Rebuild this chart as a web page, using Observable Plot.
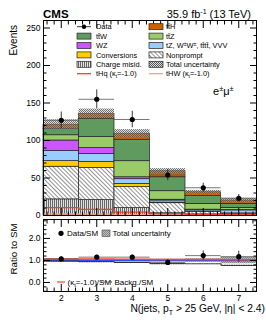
<!DOCTYPE html>
<html><head><meta charset="utf-8">
<script src="https://cdn.jsdelivr.net/npm/d3@7"></script>
<script src="https://cdn.jsdelivr.net/npm/@observablehq/plot@0.6"></script>
<style>
body{margin:0;background:#fff}
#wrap{position:relative;width:266px;height:322px;overflow:hidden;font-family:"Liberation Sans",Arial,sans-serif}
#wrap svg{position:absolute;left:0}
</style></head><body><div id="wrap"></div>
<script>
// ---- data ----
const bins = [2, 3, 4, 5, 6, 7];
const chargeMisid = [21.5, 20.5, 9.8, 3.0, 1.5, 0.8];
const nonprompt   = [43.5, 43.0, 28.0, 13.4, 3.5, 1.7];
const conversions = [7.5, 8.0, 4.4, 0.8, 0.5, 0.3];
const tZetc       = [13.5, 10.5, 6.2, 2.8, 1.8, 4.0];
const wz          = [14.0, 8.0, 2.6, 1.0, 0.5, 0.4];
const ttZ         = [7.0, 14.5, 21.4, 11.4, 7.7, 3.0];
const ttW         = [8.5, 24.5, 28.6, 18.6, 10.3, 5.3];
const ttH         = [5.5, 6.5, 8.0, 8.0, 5.2, 4.5];
const totalUnc    = [6.5, 6.5, 5.5, 3.5, 2.5, 3.0];
const dataVals    = [127, 155, 128, 54, 37, 23];
const dataErr     = [11, 12.5, 11, 7.5, 6, 5];
const tHq         = [10.5, 8.3, 4.4, 2.5, 1.5, 1.0];
const tHW         = [2.0, 1.8, 1.4, 0.8, 0.5, 0.3];
// ratio panel
const ratioData   = [1.07, 1.15, 1.15, 0.91, 1.22, 1.17];
const ratioErr    = [0.09, 0.09, 0.10, 0.13, 0.21, 0.25];
const ratioUnc    = [0.055, 0.05, 0.05, 0.06, 0.08, 0.15];
const ratioKtm1   = [1.07, 1.065, 1.055, 1.045, 1.04, 1.035];
const ratioBkg    = [0.97, 0.95, 0.91, 0.86, 0.85, 0.78];
const yTicksTop   = [0, 50, 100, 150, 200, 250];
const yTicksRatio = [0, 1, 2];
const xTickLabels = ["2", "3", "4", "5", "6", "7"];
const legendLeft  = ["Data", "tt\u0304W", "WZ", "Conversions", "Charge misid.", 'tHq (κ<tspan dy="1.5" font-size="5">t</tspan><tspan dy="-1.5">=-1.0)</tspan>'];
const legendRight = ["tt\u0304H", "tt\u0304Z", 'tZ, W<tspan dy="-2.5" font-size="5">±</tspan><tspan dy="2.5">W</tspan><tspan dy="-2.5" font-size="5">±</tspan><tspan dy="2.5">, tt\u0304tt\u0304, VVV</tspan>', "Nonprompt", "Total uncertainty", 'tHW (κ<tspan dy="1.5" font-size="5">t</tspan><tspan dy="-1.5">=-1.0)</tspan>'];

// ---- styles ----
const procs = [
  {v: chargeMisid, fill: "url(#pCM)"},
  {v: nonprompt,   fill: "url(#pNP)"},
  {v: conversions, fill: "#ffcc00"},
  {v: tZetc,       fill: "#99ccff"},
  {v: wz,          fill: "#cc55ff"},
  {v: ttZ,         fill: "#99cc66"},
  {v: ttW,         fill: "#5f9a5f"},
  {v: ttH,         fill: "#cc6200"}
];
const legLeftSw  = [{type:"data"}, {fill:"#5f9a5f"}, {fill:"#cc55ff"}, {fill:"#ffcc00"}, {fill:"url(#pCM)"}, {type:"line", stroke:"#ff3b1f"}];
const legRightSw = [{fill:"#cc6200"}, {fill:"#99cc66"}, {fill:"#99ccff"}, {fill:"url(#pNP)"}, {fill:"url(#pUnc)"}, {type:"line", stroke:"#ff9f80"}];

const defs = `
<pattern id="pNP" width="3" height="3" patternUnits="userSpaceOnUse" patternTransform="rotate(-45)"><rect width="3" height="3" fill="#fff"/><line x1="0.5" y1="0" x2="0.5" y2="3" stroke="#7a7a7a" stroke-width="0.8"/></pattern>
<pattern id="pCM" width="2" height="2" patternUnits="userSpaceOnUse"><rect width="2" height="2" fill="#e2e2e2"/><line x1="0.5" y1="0" x2="0.5" y2="2" stroke="#666" stroke-width="1"/></pattern>
<pattern id="pUnc" width="2" height="2" patternUnits="userSpaceOnUse"><rect x="0" y="0" width="1" height="1" fill="#555"/><rect x="1" y="1" width="1" height="1" fill="#555"/><rect x="1" y="0" width="1" height="1" fill="#bbb" fill-opacity="0.5"/><rect x="0" y="1" width="1" height="1" fill="#bbb" fill-opacity="0.5"/></pattern>
<pattern id="pUncR" width="2" height="2" patternUnits="userSpaceOnUse"><rect width="2" height="2" fill="#bbb"/><rect x="0" y="0" width="1" height="1" fill="#888"/><rect x="1" y="1" width="1" height="1" fill="#888"/></pattern>`;

// ---- derived tables ----
const stackRows = [];
const cum = bins.map(() => 0);
procs.forEach((p, k) => {
  bins.forEach((b, i) => {
    stackRows.push({k, bin: b, y1: cum[i], y2: cum[i] + p.v[i], fill: p.fill});
    cum[i] += p.v[i];
  });
});
const totals = cum.slice();
const steps = arr => bins.flatMap((b, i) => [{x: b - 0.5, y: arr[i]}, {x: b + 0.5, y: arr[i]}]);
const rows = bins.map((b, i) => ({b, d: dataVals[i], e: dataErr[i], t: totals[i], u: totalUnc[i],
  r: ratioData[i], re: ratioErr[i], ru: ratioUnc[i]}));

const range = (a, b, s) => d3.range(Math.round(a / s), Math.round(b / s) + 1).map(v => +(v * s).toFixed(4));
const minorTop = range(0, 260, 10).filter(v => v % 50 !== 0);
const minorRatio = range(-0.4, 2.8, 0.2).filter(v => Math.abs(v - Math.round(v)) > 1e-6);
const minorX = range(1.6, 7.4, 0.2).filter(v => Math.abs(v - Math.round(v)) > 1e-6);

function tickAxes(yMajor, yMinor) {
  const o = {tickFormat: () => "", label: null, stroke: "#000"};
  return [
    Plot.axisY({...o, anchor: "left", ticks: yMajor, tickSize: -7}),
    Plot.axisY({...o, anchor: "left", ticks: yMinor, tickSize: -3.5}),
    Plot.axisY({...o, anchor: "right", ticks: yMajor, tickSize: -7}),
    Plot.axisY({...o, anchor: "right", ticks: yMinor, tickSize: -3.5}),
    Plot.axisX({...o, anchor: "bottom", ticks: bins, tickSize: -7}),
    Plot.axisX({...o, anchor: "bottom", ticks: minorX, tickSize: -3.5}),
    Plot.axisX({...o, anchor: "top", ticks: bins, tickSize: -7}),
    Plot.axisX({...o, anchor: "top", ticks: minorX, tickSize: -3.5})
  ];
}
const style = {background: "transparent", fontFamily: "Liberation Sans, Arial, sans-serif", fontSize: "8.5px", color: "#000"};

// ---- top panel ----
const topPlot = Plot.plot({
  width: 266, height: 220, marginLeft: 43, marginRight: 10, marginTop: 20, marginBottom: 5,
  style,
  x: {domain: [1.5, 7.5]},
  y: {domain: [0, 260], label: null},
  marks: [
    ...procs.map((p, k) => Plot.rect(stackRows.filter(r => r.k === k), {
      x1: r => r.bin - 0.5, x2: r => r.bin + 0.5, y1: "y1", y2: "y2",
      fill: p.fill, stroke: "#222", strokeWidth: 0.7
    })),
    Plot.rect(rows, {x1: d => d.b - 0.5, x2: d => d.b + 0.5, y1: d => d.t - d.u, y2: d => d.t + d.u, fill: "url(#pUnc)", fillOpacity: 0.85}),
    Plot.line(steps(tHW), {x: "x", y: "y", stroke: "#ff9f80", strokeWidth: 1.3}),
    Plot.line(steps(tHq), {x: "x", y: "y", stroke: "#ff3b1f", strokeWidth: 1.3}),
    Plot.ruleY(rows, {x1: d => d.b - 0.5, x2: d => d.b + 0.5, y: "d", stroke: "#555", strokeWidth: 0.8}),
    Plot.ruleX(rows, {x: "b", y1: d => d.d - d.e, y2: d => d.d + d.e, stroke: "#222", strokeWidth: 0.9}),
    Plot.dot(rows, {x: "b", y: "d", r: 2.6, fill: "#000", stroke: "none"}),
    Plot.axisY({anchor: "left", ticks: yTicksTop, tickSize: 0, tickPadding: 3, label: null}),
    ...tickAxes(yTicksTop, minorTop),
    Plot.frame({stroke: "#000", strokeWidth: 1})
  ]
});

// ---- ratio panel ----
const botPlot = Plot.plot({
  width: 266, height: 106, marginLeft: 43, marginRight: 10, marginTop: 3, marginBottom: 31,
  style,
  x: {domain: [1.5, 7.5]},
  y: {domain: [-0.41, 2.86], label: null},
  marks: [
    Plot.rect(rows, {x1: d => d.b - 0.5, x2: d => d.b + 0.5, y1: d => 1 - d.ru, y2: d => 1 + d.ru, fill: "url(#pUncR)"}),
    Plot.ruleY([1], {stroke: "#2b4cff", strokeWidth: 1.6}),
    Plot.line(steps(ratioKtm1), {x: "x", y: "y", stroke: "#ff4a26", strokeWidth: 1.5}),
    Plot.line(steps(ratioBkg), {x: "x", y: "y", stroke: "#333", strokeWidth: 1.2, strokeDasharray: "1.4,1"}),
    Plot.ruleY(rows, {x1: d => d.b - 0.5, x2: d => d.b + 0.5, y: "r", stroke: "#555", strokeWidth: 0.8}),
    Plot.ruleX(rows, {x: "b", y1: d => d.r - d.re, y2: d => d.r + d.re, stroke: "#222", strokeWidth: 0.9}),
    Plot.dot(rows, {x: "b", y: "r", r: 2.6, fill: "#000", stroke: "none"}),
    Plot.axisY({anchor: "left", ticks: yTicksRatio, tickSize: 0, tickPadding: 3, label: null}),
    Plot.axisX({anchor: "bottom", ticks: bins, tickSize: 0, tickPadding: 3, label: null,
      tickFormat: v => xTickLabels[bins.indexOf(v)]}),
    ...tickAxes(yTicksRatio, minorRatio),
    Plot.frame({stroke: "#000", strokeWidth: 1})
  ]
});

const wrap = document.getElementById("wrap");
topPlot.style.top = "0px";
botPlot.style.top = "216px";
wrap.appendChild(topPlot);
wrap.appendChild(botPlot);
d3.select(topPlot).insert("defs", ":first-child").html(defs);

// ---- annotation overlay ----
const ov = d3.select(wrap).append("svg").attr("width", 266).attr("height", 322)
  .style("top", "0px").style("pointer-events", "none")
  .attr("font-family", "Liberation Sans, Arial, sans-serif");
ov.append("defs").html(defs.replace(/id="p/g, 'id="o'));
const oFill = f => f.replace("url(#p", "url(#o");

ov.append("text").attr("x", 43).attr("y", 17.5).attr("font-size", 11.5).attr("font-weight", "bold").text("CMS");
ov.append("text").attr("x", 251).attr("y", 17.5).attr("font-size", 11).attr("text-anchor", "end")
  .html('35.9 fb<tspan dy="-4" font-size="7">-1</tspan><tspan dy="4"> (13 TeV)</tspan>');
ov.append("text").attr("x", 213).attr("y", 95).attr("font-size", 11)
  .html('e<tspan dy="-4" font-size="7.5">±</tspan><tspan dy="4">μ</tspan><tspan dy="-4" font-size="7.5">±</tspan>');
ov.append("text").attr("transform", "translate(17,25) rotate(-90)").attr("text-anchor", "end").attr("font-size", 10).text("Events");
ov.append("text").attr("transform", "translate(17,249) rotate(-90)").attr("text-anchor", "middle").attr("font-size", 9.8).text("Ratio to SM");
ov.append("text").attr("x", 265).attr("y", 311.5).attr("font-size", 10.3).attr("text-anchor", "end")
  .html('N(jets, p<tspan dy="3" font-size="7">T</tspan><tspan dy="-3"> &gt; 25 GeV, |η| &lt; 2.4)</tspan>');

function legendCol(sw, labels, x0, tx) {
  labels.forEach((lab, i) => {
    const y = 26.7 + 9.4 * i;
    const s = sw[i];
    if (s.type === "data") {
      ov.append("line").attr("x1", x0).attr("x2", x0 + 14).attr("y1", y).attr("y2", y).attr("stroke", "#000").attr("stroke-width", 0.8);
      ov.append("circle").attr("cx", x0 + 7).attr("cy", y).attr("r", 2.2);
    } else if (s.type === "line") {
      ov.append("line").attr("x1", x0).attr("x2", x0 + 14).attr("y1", y).attr("y2", y).attr("stroke", s.stroke).attr("stroke-width", 1.3);
    } else {
      ov.append("rect").attr("x", x0).attr("y", y - 3).attr("width", 14).attr("height", 6)
        .attr("fill", oFill(s.fill)).attr("stroke", "#222").attr("stroke-width", 0.7);
    }
    ov.append("text").attr("x", tx).attr("y", y + 2.6).attr("font-size", 7.4).html(lab);
  });
}
legendCol(legLeftSw, legendLeft, 77, 96);
legendCol(legRightSw, legendRight, 149, 166);

// ratio legends
ov.append("circle").attr("cx", 61).attr("cy", 233.3).attr("r", 2.6);
ov.append("text").attr("x", 67).attr("y", 236.2).attr("font-size", 8).text("Data/SM");
ov.append("rect").attr("x", 102).attr("y", 230).attr("width", 8).attr("height", 6.5).attr("fill", "url(#oUncR)").attr("stroke", "#444").attr("stroke-width", 0.6);
ov.append("text").attr("x", 112.5).attr("y", 236.2).attr("font-size", 8).text("Total uncertainty");
ov.append("line").attr("x1", 57).attr("x2", 65).attr("y1", 282).attr("y2", 282).attr("stroke", "#ff6a4d").attr("stroke-width", 1.5);
ov.append("text").attr("x", 67.5).attr("y", 285).attr("font-size", 8)
  .html('(κ<tspan dy="1.5" font-size="5.5">t</tspan><tspan dy="-1.5">=-1.0)/SM</tspan>');
ov.append("line").attr("x1", 101).attr("x2", 112).attr("y1", 282).attr("y2", 282).attr("stroke", "#333").attr("stroke-width", 1.2).attr("stroke-dasharray", "1.4,1");
ov.append("text").attr("x", 114.5).attr("y", 285).attr("font-size", 8).text("Backg./SM");
</script></body></html>
